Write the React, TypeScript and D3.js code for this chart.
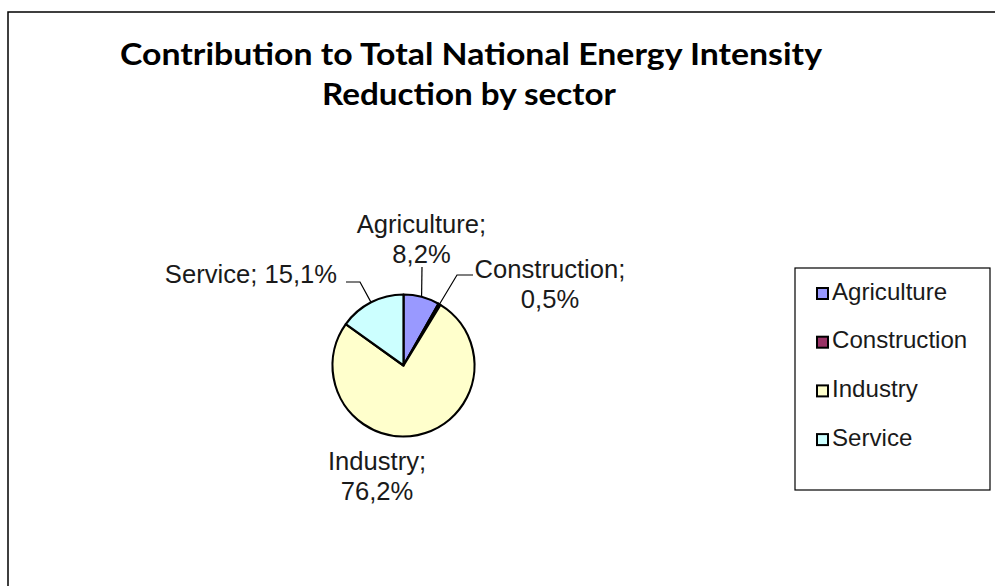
import React from "react";
import * as d3 from "d3";

const titleLines = ["Contribution to Total National Energy Intensity", "Reduction by sector"];
const categories = ["Agriculture", "Construction", "Industry", "Service"];
const values = [8.2, 0.5, 76.2, 15.1];
const valueLabels = ["8,2%", "0,5%", "76,2%", "15,1%"];
const colors = ["#9999FF", "#993366", "#FFFFCC", "#CCFFFF"];

const W = 995;
const H = 586;
const cx = 403.5;
const cy = 365.5;
const R = 71;

// label layout (positions only)
const labelLayout = [
  { lines: (c: string, v: string) => [c + ";", v], x: 421.5, y: 233, anchor: "middle", leader: [[422, 267]] },
  { lines: (c: string, v: string) => [c + ";", v], x: 550, y: 278, anchor: "middle", leader: [[457, 275], [473, 275]] },
  { lines: (c: string, v: string) => [c + ";", v], x: 377, y: 470, anchor: "middle", leader: [] },
  { lines: (c: string, v: string) => [c + "; " + v], x: 337, y: 283, anchor: "end", leader: [[360, 282], [346, 282]] },
];

export default function App() {
  const pie = d3.pie<number>().sort(null).startAngle(0).endAngle(2 * Math.PI)(values);
  const arc = d3.arc<d3.PieArcDatum<number>>().innerRadius(0).outerRadius(R);
  const labelFont = "'Liberation Sans', Arial, sans-serif";
  return (
    <svg width={W} height={H} style={{ position: "absolute", left: 0, top: 0, background: "#fff" }}>
      <rect x={8} y={12} width={W + 10} height={H + 10} fill="#fff" stroke="#000" strokeWidth={1.5} />
      <text x={471} y={65} textAnchor="middle" fontFamily="Lato, 'Open Sans', sans-serif" fontWeight="bold" fontSize={31} textLength={702} lengthAdjust="spacingAndGlyphs" fill="#000">
        {titleLines[0]}
      </text>
      <text x={469} y={105} textAnchor="middle" fontFamily="Lato, 'Open Sans', sans-serif" fontWeight="bold" fontSize={31} textLength={294} lengthAdjust="spacingAndGlyphs" fill="#000">
        {titleLines[1]}
      </text>
      <g transform={`translate(${cx},${cy})`}>
        {pie.map((d, i) => (
          <path key={i} d={arc(d) || ""} fill={colors[i]} stroke="#000" strokeWidth={2.2} strokeLinejoin="round" />
        ))}
      </g>
      {pie.map((d, i) => {
        const L = labelLayout[i];
        const mid = (d.startAngle + d.endAngle) / 2;
        const ex = cx + R * Math.sin(mid);
        const ey = cy - R * Math.cos(mid);
        const pts = [[ex, ey], ...L.leader];
        const lines = L.lines(categories[i], valueLabels[i]);
        return (
          <g key={i}>
            {L.leader.length > 0 && (
              <polyline points={pts.map((p) => p.join(",")).join(" ")} fill="none" stroke="#000" strokeWidth={1.2} />
            )}
            <text x={L.x} y={L.y} textAnchor={L.anchor as any} fontFamily={labelFont} fontSize={25.6} fill="#1a1a1a">
              {lines.map((t, k) => (
                <tspan key={k} x={L.x} dy={k === 0 ? 0 : 30}>{t}</tspan>
              ))}
            </text>
          </g>
        );
      })}
      <rect x={795} y={268} width={195} height={222} fill="#fff" stroke="#000" strokeWidth={1.2} />
      {categories.map((c, i) => {
        const by = 299.5 + i * 48.7;
        return (
          <g key={c}>
            <rect x={817} y={by - 11.5} width={11} height={11} fill={colors[i]} stroke="#000" strokeWidth={2} />
            <text x={832} y={by} fontFamily={labelFont} fontSize={24.1} fill="#1a1a1a">{c}</text>
          </g>
        );
      })}
    </svg>
  );
}
